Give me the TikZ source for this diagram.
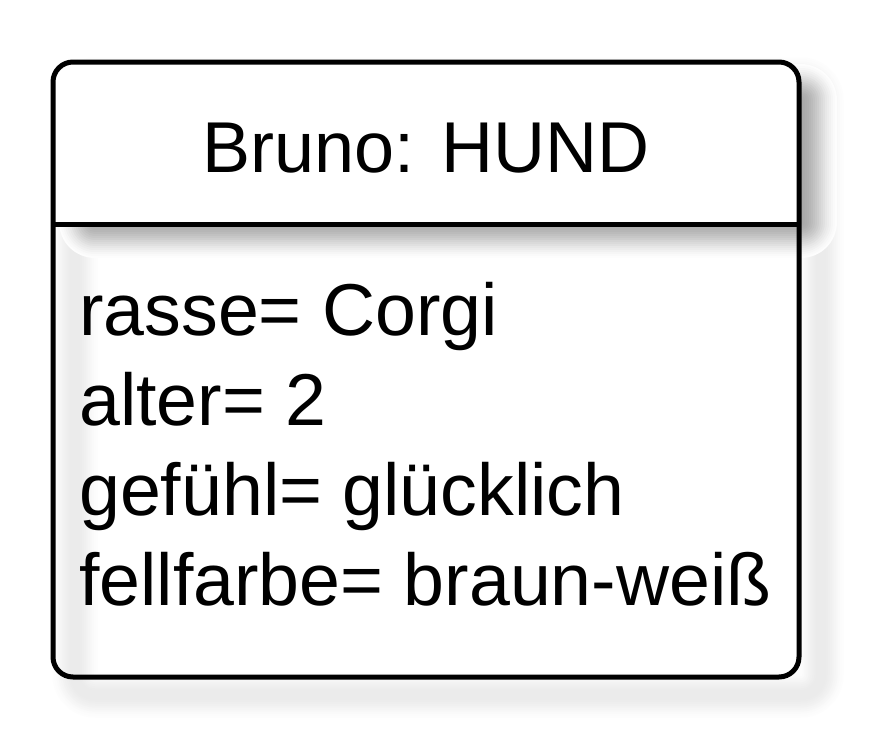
\documentclass[tikz,border=0pt]{standalone}
\usepackage{fontspec}
\setmainfont{Liberation Sans}
\begin{document}
\begin{tikzpicture}[x=1pt,y=-1pt,
  boxline/.style={line width=5pt, draw=black},
  attr/.style={anchor=base west, inner sep=0pt, font=\fontsize{73.5}{90}\selectfont},
  ttl/.style={anchor=base, inner sep=0pt, font=\fontsize{72}{90}\selectfont},
  headp/.style={insert path={(53,224) -- (53,82) arc[start angle=180,end angle=270,radius=20] -- (779,62)
    arc[start angle=270,end angle=360,radius=20] -- (799,224) -- cycle}}]
\useasboundingbox (0,0) rectangle (879,745);
% soft shadow of the outline strokes (offset 22,18)
\foreach \i [evaluate=\i as \w using 5+48*\i/12, evaluate=\i as \g using 1-0.08*(1-3*(\i/12)^2+2*(\i/12)^3)] in {11,10,...,0} {
  \definecolor{shc}{gray}{\g}
  \draw[draw=shc, line width=\w pt, line join=round, rounded corners=20pt]
    (75,80) rectangle (821,695);
}
% soft shadow of the filled header (offset 22,18)
\foreach \i [evaluate=\i as \w using 80*\i/20, evaluate=\i as \g using 1-0.34*(1-3*(\i/20)^2+2*(\i/20)^3)] in {18,17,...,1} {
  \definecolor{shc}{gray}{\g}
  \draw[draw=shc, line width=\w pt, line join=round] (95,100) rectangle (801,222);
}
\definecolor{shcore}{gray}{0.66}
\fill[shcore] (95,100) rectangle (801,222);
% white header fill
\fill[white, headp];
% outline and divider
\draw[boxline, rounded corners=20pt] (53,62) rectangle (799,677);
\draw[boxline] (53,224) -- (799,224);
% texts
\node[ttl] (title) at (426,172) {Bruno: HUND};
\node[attr] (a1) at (79,335) {rasse= Corgi};
\node[attr] (a2) at (79,425) {alter= 2};
\node[attr] (a3) at (79,515) {gefühl= glücklich};
\node[attr] (a4) at (79,605) {fellfarbe= braun-weiß};
\end{tikzpicture}
\end{document}
